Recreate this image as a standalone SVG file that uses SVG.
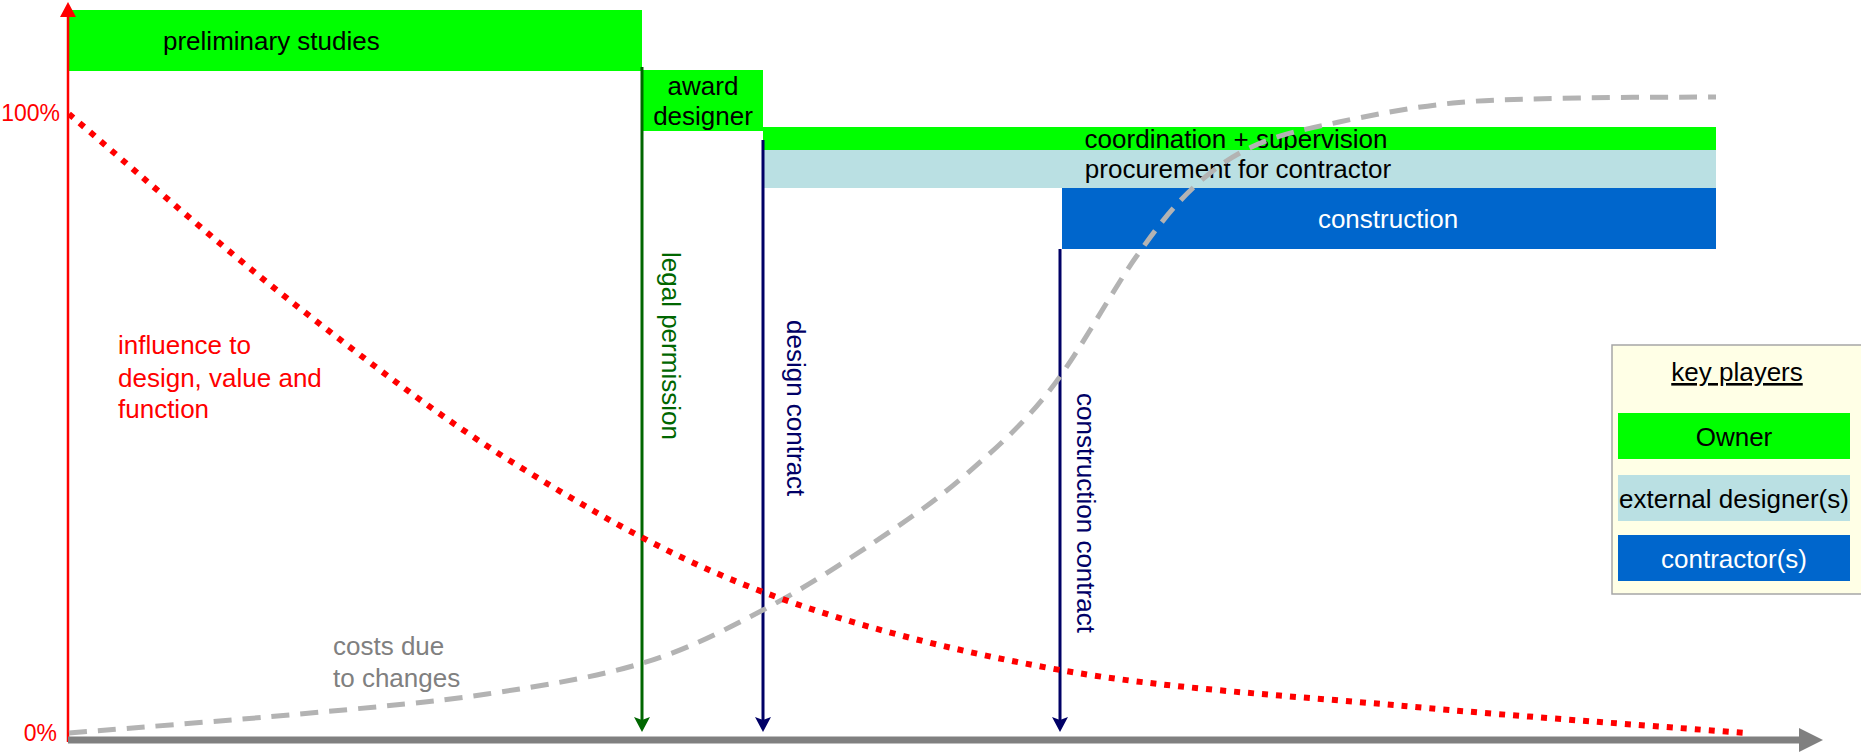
<svg xmlns="http://www.w3.org/2000/svg" width="1861" height="754" viewBox="0 0 1861 754">
<style>
text{font-family:"Liberation Sans",Arial,sans-serif;font-size:26px}
.blk{fill:#000}
.wht{fill:#fff}
.red{fill:#ff0000}
.gry{fill:#808080}
.mid{text-anchor:middle}
.own{fill:#00ff00}
.des{fill:#bae0e3}
.con{fill:#0066cc}
.vg{stroke:#006600;stroke-width:3;fill:none}
.vn{stroke:#000066;stroke-width:3;fill:none}
</style>
<defs>
<marker id="ag" markerUnits="userSpaceOnUse" markerWidth="16" markerHeight="16" refX="5" refY="8" orient="auto">
<path d="M0,0 L15,8 L0,16 L3,8 z" fill="#006600"/>
</marker>
<marker id="an" markerUnits="userSpaceOnUse" markerWidth="16" markerHeight="16" refX="5" refY="8" orient="auto">
<path d="M0,0 L15,8 L0,16 L3,8 z" fill="#000066"/>
</marker>
</defs>
<rect width="1861" height="754" fill="#fff"/>

<g id="preliminary-studies">
<rect class="own" x="69" y="10" width="573" height="61"/>
<text class="blk" x="163" y="50">preliminary studies</text>
</g>
<g id="award-designer">
<rect class="own" x="643" y="70" width="120" height="61"/>
<text class="blk mid" x="703" y="95">award</text>
<text class="blk mid" x="703" y="125">designer</text>
</g>
<g id="coordination">
<rect class="own" x="763" y="127" width="953" height="23"/>
<text class="blk mid" x="1236" y="148">coordination + supervision</text>
</g>
<g id="procurement">
<rect class="des" x="763" y="150" width="953" height="38"/>
<text class="blk mid" x="1238" y="178">procurement for contractor</text>
</g>
<g id="construction">
<rect class="con" x="1062" y="188" width="654" height="61"/>
<text class="wht mid" x="1388" y="228">construction</text>
</g>

<g id="axes">
<line x1="68" y1="742" x2="68" y2="15" stroke="#ff0000" stroke-width="2.5"/>
<polygon points="68,2 76,17 60,17" fill="#ff0000"/>
<line x1="68" y1="740" x2="1800" y2="740" stroke="#808080" stroke-width="7"/>
<polygon points="1799,728 1823,740 1799,752" fill="#808080"/>
<text class="red" x="60" y="121" text-anchor="end" style="font-size:23px">100%</text>
<text class="red" x="57" y="741" text-anchor="end" style="font-size:23px">0%</text>
</g>

<g id="connectors">
<path class="vg" d="M642,67 V722" marker-end="url(#ag)"/>
<path class="vn" d="M763,140 V722" marker-end="url(#an)"/>
<path class="vn" d="M1060,249 V722" marker-end="url(#an)"/>
</g>

<g id="milestone-labels">
<text fill="#006600" transform="translate(662,252) rotate(90)">legal permission</text>
<text fill="#000066" transform="translate(787,320) rotate(90)">design contract</text>
<text fill="#000066" transform="translate(1077,393) rotate(90)">construction contract</text>
</g>

<g id="curves">
<path d="M69,733 C107.5,729.8 230.3,720.5 300,714 C369.7,707.5 429.8,702.5 487,694 C544.2,685.5 597,677 643,663 C689,649 724.7,630 763,610 C801.3,590 839.7,565.2 873,543 C906.3,520.8 933.5,502.5 963,477 C992.5,451.5 1021.2,426.7 1050,390 C1078.8,353.3 1112,290.8 1136,257 C1160,223.2 1174,205.7 1194,187 C1214,168.3 1231.8,155.8 1256,145 C1280.2,134.2 1306.2,129 1339,122 C1371.8,115 1413,107 1453,103 C1493,99 1535.2,99 1579,98 C1622.8,97 1693.2,97.2 1716,97" fill="none" stroke="#b3b3b3" stroke-width="5" stroke-dasharray="18 11"/>
<path d="M69,114 C106.3,145.5 217.8,244.2 293,303 C368.2,361.8 441.7,418.8 520,467 C598.3,515.2 673,558.2 763,592 C853,625.8 953.2,651 1060,670 C1166.8,689 1289.8,695.5 1404,706 C1518.2,716.5 1688.2,728.5 1745,733" fill="none" stroke="#ff0000" stroke-width="6" stroke-dasharray="6 8"/>
</g>

<g id="curve-labels">
<text class="red" x="118" y="354">influence to</text>
<text class="red" x="118" y="387">design, value and</text>
<text class="red" x="118" y="418">function</text>
<text class="gry" x="333" y="655">costs due</text>
<text class="gry" x="333" y="687">to changes</text>
</g>

<g id="legend">
<rect x="1612" y="345" width="252" height="249" fill="#ffffe6" stroke="#a6a6a6" stroke-width="1.5"/>
<text class="blk mid" x="1737" y="381" text-decoration="underline">key players</text>
<rect class="own" x="1618" y="413" width="232" height="46"/>
<text class="blk mid" x="1734" y="446">Owner</text>
<rect class="des" x="1618" y="475" width="232" height="46"/>
<text class="blk mid" x="1734" y="508">external designer(s)</text>
<rect class="con" x="1618" y="535" width="232" height="46"/>
<text class="wht mid" x="1734" y="568">contractor(s)</text>
</g>
</svg>
